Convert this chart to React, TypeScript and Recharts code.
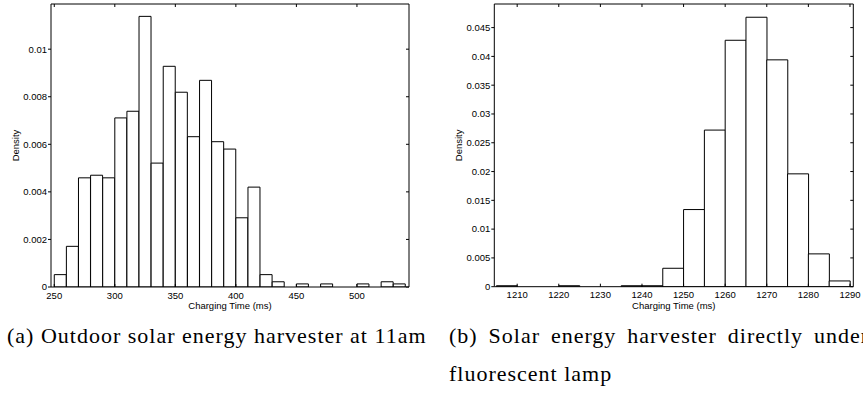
import React from 'react';
import { BarChart, Bar, XAxis, YAxis, Label } from 'recharts';

// (a) Outdoor harvester, 10 ms bins
const outdoorBinStarts = [250, 260, 270, 280, 290, 300, 310, 320, 330, 340, 350, 360, 370, 380, 390, 400, 410, 420, 430, 440, 450, 460, 470, 480, 490, 500, 510, 520, 530];
const outdoorDensity = [0.00052, 0.00171, 0.00459, 0.0047, 0.00459, 0.00711, 0.00739, 0.01138, 0.00521, 0.00928, 0.00819, 0.00632, 0.00869, 0.00611, 0.0058, 0.00291, 0.0042, 0.00052, 0.00022, 0, 0.00013, 0, 0.00013, 0, 0, 0.00013, 0, 0.00022, 0.00013];
const outdoorXTicks = [250, 300, 350, 400, 450, 500];
const outdoorYTicks = [0, 0.002, 0.004, 0.006, 0.008, 0.01];
const outdoorXDomain: [number, number] = [247.3, 543];
const outdoorYDomain: [number, number] = [0, 0.0119];

// (b) Harvester under fluorescent lamp, 5 ms bins
const lampBinStarts = [1205, 1210, 1215, 1220, 1225, 1230, 1235, 1240, 1245, 1250, 1255, 1260, 1265, 1270, 1275, 1280, 1285];
const lampDensity = [0.00017, 0, 0, 0.00017, 0, 0, 0.00017, 0.00017, 0.0032, 0.0134, 0.0272, 0.0428, 0.0468, 0.0394, 0.0196, 0.0057, 0.001];
const lampXTicks = [1210, 1220, 1230, 1240, 1250, 1260, 1270, 1280, 1290];
const lampYTicks = [0, 0.005, 0.01, 0.015, 0.02, 0.025, 0.03, 0.035, 0.04, 0.045];
const lampXDomain: [number, number] = [1204.5, 1290.8];
const lampYDomain: [number, number] = [0, 0.0491];

const xTitle = 'Charging Time (ms)';
const yTitle = 'Density';
const captionA = '(a) Outdoor solar energy harvester at 11am';
const captionB = '(b) Solar energy harvester directly under fluorescent lamp';

const AXIS_FONT = "'Liberation Sans', Arial, Helvetica, sans-serif";
const SERIF = "'Liberation Serif', 'Times New Roman', serif";
const FONT_SIZE = 9.5;
const tickStyle = { fontSize: FONT_SIZE, fill: '#000', fontFamily: AXIS_FONT };

const NoTick = () => <g />;

type Box = { left: number; top: number; right: number; bottom: number };

type HistogramProps = {
  starts: number[];
  density: number[];
  binWidth: number;
  xDomain: [number, number];
  yDomain: [number, number];
  xTicks: number[];
  yTicks: number[];
  width: number;
  height: number;
  plot: Box; // plot frame edges inside the chart
};

function XTitle(props: any) {
  const vb = props.viewBox || {};
  return (
    <text x={vb.x + vb.width / 2} y={vb.y + 22} textAnchor="middle" fontSize={FONT_SIZE} fontFamily={AXIS_FONT} fill="#000">
      {xTitle}
    </text>
  );
}

function YTitle(props: any) {
  const vb = props.viewBox || {};
  const cx = vb.x + vb.width - 32;
  const cy = vb.y + vb.height / 2;
  return (
    <text x={cx} y={cy} transform={`rotate(-90, ${cx}, ${cy})`} textAnchor="middle" fontSize={FONT_SIZE} fontFamily={AXIS_FONT} fill="#000">
      {yTitle}
    </text>
  );
}

// every visible axis takes 1px of room, so the margins are trimmed by that amount
const AXIS_ROOM = 1;

function Histogram({ starts, density, binWidth, xDomain, yDomain, xTicks, yTicks, width, height, plot }: HistogramProps) {
  const rows = starts.map((start, i) => ({ start, density: density[i] }));
  const margin = {
    top: plot.top - AXIS_ROOM,
    left: plot.left - AXIS_ROOM,
    right: width - plot.right - AXIS_ROOM,
    bottom: height - plot.bottom - AXIS_ROOM,
  };
  const plotWidth = plot.right - plot.left;
  const unit = plotWidth / (xDomain[1] - xDomain[0]);
  const padLeft = (starts[0] - xDomain[0]) * unit;
  const padRight = (xDomain[1] - (starts[starts.length - 1] + binWidth)) * unit;
  const line = { stroke: '#000', strokeWidth: 1 };
  return (
    <BarChart width={width} height={height} data={rows} margin={margin} barCategoryGap={0} barGap={0}>
      <XAxis
        xAxisId="value"
        dataKey="start"
        type="number"
        domain={xDomain}
        allowDataOverflow
        ticks={xTicks}
        interval={0}
        height={AXIS_ROOM}
        tickSize={-3}
        tickMargin={8}
        tick={tickStyle}
        tickLine={line}
        axisLine={line}
      >
        <Label content={<XTitle />} />
      </XAxis>
      <XAxis xAxisId="bins" dataKey="start" hide height={0} padding={{ left: padLeft, right: padRight }} />
      <XAxis
        xAxisId="top"
        orientation="top"
        dataKey="start"
        type="number"
        domain={xDomain}
        allowDataOverflow
        ticks={xTicks}
        interval={0}
        height={AXIS_ROOM}
        tickSize={-3}
        tick={<NoTick />}
        tickLine={line}
        axisLine={line}
      />
      <YAxis
        yAxisId="left"
        dataKey="density"
        type="number"
        domain={yDomain}
        allowDataOverflow
        ticks={yTicks}
        interval={0}
        width={AXIS_ROOM}
        tickSize={3}
        tickMargin={1}
        tick={tickStyle}
        tickLine={line}
        axisLine={line}
      >
        <Label content={<YTitle />} />
      </YAxis>
      <YAxis
        yAxisId="right"
        orientation="right"
        dataKey="density"
        type="number"
        domain={yDomain}
        allowDataOverflow
        ticks={yTicks}
        interval={0}
        width={AXIS_ROOM}
        tickSize={-3}
        tick={<NoTick />}
        tickLine={line}
        axisLine={line}
      />
      <Bar
        xAxisId="bins"
        yAxisId="left"
        dataKey="density"
        fill="#fff"
        stroke="#000"
        strokeWidth={1}
        isAnimationActive={false}
      />
    </BarChart>
  );
}

const captionStyle: React.CSSProperties = {
  position: 'absolute',
  top: 317,
  fontFamily: SERIF,
  fontSize: 22,
  letterSpacing: 1,
  lineHeight: '38px',
  color: '#000',
};

export default function App() {
  return (
    <div style={{ position: 'absolute', left: 0, top: 0, width: 863, height: 394, overflow: 'hidden', background: '#fff' }}>
      <div style={{ position: 'absolute', left: 0, top: 0 }}>
        <Histogram
          starts={outdoorBinStarts}
          density={outdoorDensity}
          binWidth={10}
          xDomain={outdoorXDomain}
          yDomain={outdoorYDomain}
          xTicks={outdoorXTicks}
          yTicks={outdoorYTicks}
          width={430}
          height={320}
          plot={{ left: 51, top: 4, right: 409, bottom: 287 }}
        />
      </div>
      <div style={{ position: 'absolute', left: 430, top: 0 }}>
        <Histogram
          starts={lampBinStarts}
          density={lampDensity}
          binWidth={5}
          xDomain={lampXDomain}
          yDomain={lampYDomain}
          xTicks={lampXTicks}
          yTicks={lampYTicks}
          width={433}
          height={320}
          plot={{ left: 64.3, top: 4, right: 423.3, bottom: 286.7 }}
        />
      </div>
      <div style={{ ...captionStyle, left: 7, width: 430, whiteSpace: 'nowrap' }}>{captionA}</div>
      <div style={{ ...captionStyle, left: 449, width: 420, textAlign: 'justify' }}>{captionB}</div>
    </div>
  );
}
